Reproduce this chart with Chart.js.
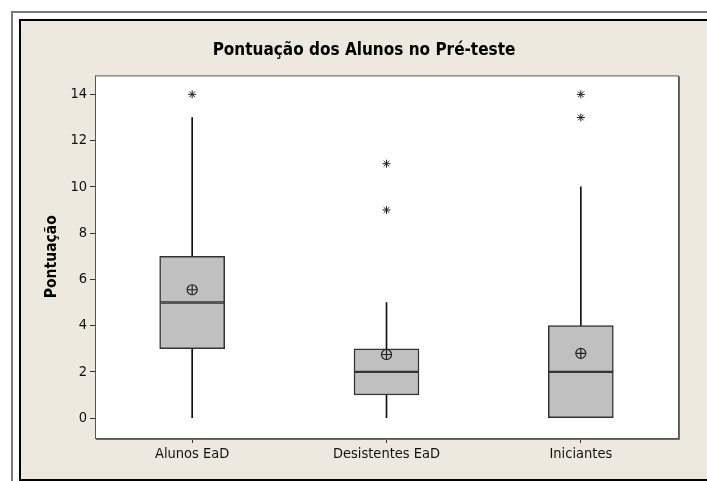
<!DOCTYPE html>
<html>
<head>
<meta charset="utf-8">
<script src="https://cdn.jsdelivr.net/npm/chart.js@4"></script>
<style>
  body { margin: 0; background: #fff; width: 707px; height: 481px; overflow: hidden; position: relative; }
  #outer { position: absolute; left: 11px; top: 11px; width: 720px; height: 500px; border-left: 2px solid #7a7a7a; border-top: 2px solid #7a7a7a; }
  #panel { position: absolute; left: 19px; top: 19px; width: 720px; height: 458px; background: #ede9df; border-left: 2px solid #000; border-top: 2px solid #000; border-bottom: 2px solid #000; }
  #box { position: absolute; left: 0; top: 0; }
</style>
</head>
<body>
<div id="outer"></div>
<div id="panel"></div>
<canvas id="box" width="707" height="481"></canvas>
<script>
// groups and the five-number summaries
const categories = ['Alunos EaD', 'Desistentes EaD', 'Iniciantes'];
const whiskerLow = [0, 0, 0];
const q1 = [3, 1, 0];
const median = [5, 2, 2];
const q3 = [7, 3, 4];
const whiskerHigh = [13, 5, 10];
const means = [5.55, 2.75, 2.8];
const outliers = [[14], [9, 11], [13, 14]];
const yTicks = [0, 2, 4, 6, 8, 10, 12, 14];

const FONT = 'DejaVu Sans Condensed, DejaVu Sans, sans-serif';

// white plot area and its frame
const plotFrame = {
  id: 'plotFrame',
  beforeDraw(chart) {
    const a = chart.chartArea, ctx = chart.ctx;
    ctx.save();
    ctx.fillStyle = '#fff';
    ctx.fillRect(a.left, a.top, a.right - a.left, a.bottom - a.top);
    ctx.restore();
  },
  afterDraw(chart) {
    const a = chart.chartArea, ctx = chart.ctx;
    ctx.save();
    ctx.strokeStyle = '#555';
    ctx.lineWidth = 1;
    ctx.strokeRect(a.left + 0.5, a.top + 0.5, a.right - a.left, a.bottom - a.top);
    ctx.strokeStyle = '#6a6a6a';
    ctx.beginPath();
    ctx.moveTo(a.right + 1.5, a.top + 1);
    ctx.lineTo(a.right + 1.5, a.bottom + 1.5);
    ctx.lineTo(a.left + 1, a.bottom + 1.5);
    ctx.stroke();
    ctx.restore();
  }
};

const boxStyle = {
  backgroundColor: '#c0c0c0',
  borderColor: '#333',
  borderWidth: 1.5,
  borderSkipped: false,
  barThickness: 65,
  grouped: false,
  order: 2
};
const whiskerStyle = {
  backgroundColor: '#111',
  borderWidth: 0,
  barThickness: 1,
  grouped: false,
  order: 3
};

new Chart(document.getElementById('box'), {
  type: 'bar',
  data: {
    labels: categories,
    datasets: [
      Object.assign({ label: 'lower whisker', data: categories.map((c, i) => q1[i] > whiskerLow[i] ? [whiskerLow[i], q1[i]] : null) }, whiskerStyle),
      Object.assign({ label: 'upper whisker', data: categories.map((c, i) => [q3[i], whiskerHigh[i]]) }, whiskerStyle),
      Object.assign({ label: 'Q1-median', data: categories.map((c, i) => [q1[i], median[i]]) }, boxStyle),
      Object.assign({ label: 'median-Q3', data: categories.map((c, i) => [median[i], q3[i]]) }, boxStyle),
      {
        type: 'line', label: 'mean ring', showLine: false, order: 1,
        data: categories.map((c, i) => ({ x: c, y: means[i] })),
        pointStyle: 'circle', pointRadius: 5, pointBackgroundColor: 'rgba(0,0,0,0)',
        pointBorderColor: '#222', pointBorderWidth: 1.2
      },
      {
        type: 'line', label: 'mean cross', showLine: false, order: 1,
        data: categories.map((c, i) => ({ x: c, y: means[i] })),
        pointStyle: 'cross', pointRadius: 5, pointBorderColor: '#222', pointBorderWidth: 1.2
      },
      {
        type: 'line', label: 'outliers', showLine: false, order: 1,
        data: outliers.flatMap((arr, i) => arr.map(v => ({ x: categories[i], y: v }))),
        pointStyle: 'star', pointRadius: 4, pointBorderColor: '#222', pointBorderWidth: 1
      }
    ]
  },
  options: {
    responsive: false,
    animation: false,
    events: [],
    // left padding 50 keeps the title centred on the beige panel
    layout: { padding: { top: 0, left: 50, right: 29, bottom: 0 } },
    plugins: {
      legend: { display: false },
      tooltip: { enabled: false },
      title: {
        display: true,
        text: 'Pontuação dos Alunos no Pré-teste',
        color: '#000',
        font: { family: FONT, size: 17, weight: 'bold' },
        padding: { top: 40, bottom: 15 }
      }
    },
    scales: {
      x: {
        offset: true,
        afterFit(scale) { scale.height = 43; },
        grid: { offset: false, drawOnChartArea: false, drawTicks: true, tickLength: 5, color: '#333' },
        border: { display: false },
        ticks: { color: '#111', padding: 3, font: { family: FONT, size: 14.5 } }
      },
      y: {
        min: -0.86,
        max: 14.82,
        afterFit(scale) { scale.width = 45; },
        afterBuildTicks(scale) { scale.ticks = yTicks.map(v => ({ value: v })); },
        grid: { drawOnChartArea: false, drawTicks: true, tickLength: 5, color: '#333' },
        border: { display: false },
        ticks: { color: '#111', padding: 3, font: { family: FONT, size: 14.5 } },
        title: {
          display: true,
          text: 'Pontuação',
          color: '#000',
          font: { family: FONT, size: 15.5, weight: 'bold' },
          padding: { top: -7, bottom: 0 }
        }
      }
    }
  },
  plugins: [plotFrame]
});
</script>
</body>
</html>
